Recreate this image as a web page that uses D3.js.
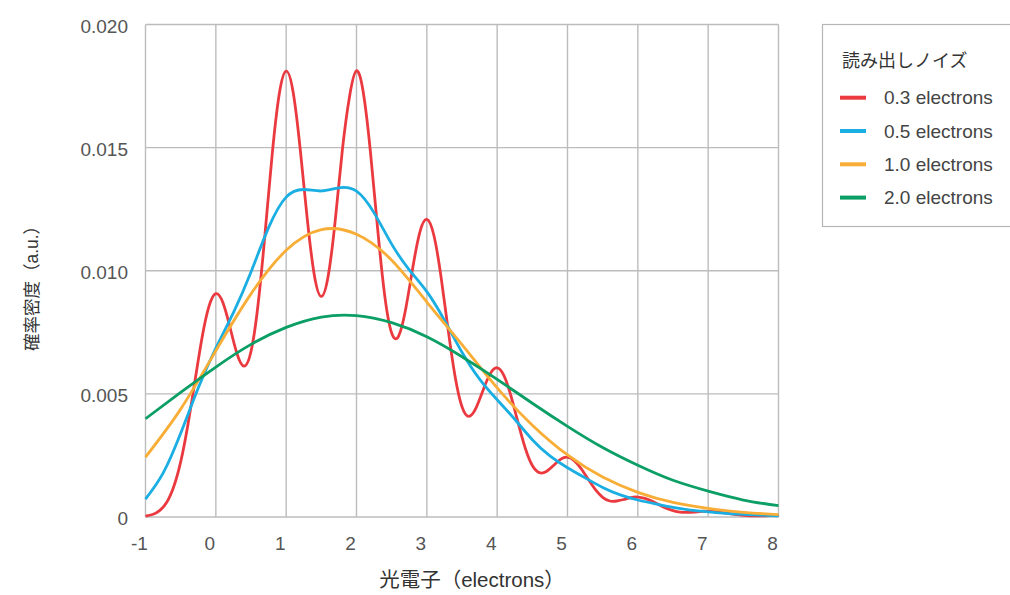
<!DOCTYPE html>
<html>
<head>
<meta charset="utf-8">
<script src="https://cdn.jsdelivr.net/npm/d3@7"></script>
<style>
body { margin: 0; background: #fff; }
text { font-family: "Helvetica Neue", Helvetica, Arial, "Liberation Sans", "Noto Sans CJK JP", sans-serif; }
</style>
</head>
<body>
<svg width="1010" height="595"></svg>
<script>
// sample positions (photoelectrons)
var xFine = [-1.0,-0.9,-0.8,-0.7,-0.6,-0.5,-0.4,-0.3,-0.2,-0.1,
  0.0,0.1,0.2,0.3,0.4,0.5,0.6,0.7,0.8,0.9,
  1.0,1.1,1.2,1.3,1.4,1.5,1.6,1.7,1.8,1.9,
  2.0,2.1,2.2,2.3,2.4,2.5,2.6,2.7,2.8,2.9,
  3.0,3.1,3.2,3.3,3.4,3.5,3.6,3.7,3.8,3.9,
  4.0,4.1,4.2,4.3,4.4,4.5,4.6,4.7,4.8,4.9,
  5.0,5.1,5.2,5.3,5.4,5.5,5.6,5.7,5.8,5.9,
  6.0,6.1,6.2,6.3,6.4,6.5,6.6,6.7,6.8,6.9,
  7.0,7.1,7.2,7.3,7.4,7.5,7.6,7.7,7.8,7.9,8.0];
var xQuarter = [-1,-0.75,-0.5,-0.25,0,0.25,0.5,0.75,1,1.25,1.5,1.75,2,2.25,2.5,2.75,
  3,3.25,3.5,3.75,4,4.25,4.5,4.75,5,5.25,5.5,5.75,6,6.25,6.5,6.75,7,7.25,7.5,7.75,8];
var xHalf = [-1,-0.5,0,0.5,1,1.5,2,2.5,3,3.5,4,4.5,5,5.5,6,6.5,7,7.5,8];

// read noise 0.3 electrons
var noise03 = [0.00004,0.0001,0.00026,0.00059,0.00122,0.00224,0.0037,0.00546,0.00722,0.00853,
  0.00907,0.00871,0.00772,0.00664,0.00613,0.00672,0.00862,0.01152,0.01469,0.01715,
  0.01811,0.01724,0.01493,0.01211,0.00983,0.00896,0.00983,0.01211,0.01493,0.01706,
  0.01812,0.01718,0.01477,0.01172,0.00902,0.00747,0.00736,0.00846,0.01012,0.01156,
  0.01209,0.01144,0.00979,0.00767,0.00574,0.00448,0.00409,0.00443,0.00515,0.00581,
  0.00606,0.00572,0.00488,0.0038,0.00279,0.00209,0.0018,0.00185,0.00209,0.00234,
  0.00243,0.00228,0.00194,0.00151,0.0011,0.0008,0.00065,0.00065,0.00071,0.00079,
  0.00081,0.00076,0.00065,0.0005,0.00036,0.00026,0.0002,0.00019,0.0002,0.00023,
  0.00023,0.00022,0.00018,0.00014,0.0001,0.00007,0.00005,0.00005,0.00005,0.00006,0.00006];
// read noise 0.5 electrons
var noise05 = [0.00073,0.00178,0.0034,0.00524,0.00686,0.0083,0.00995,0.01175,0.01299,0.0133,
  0.01324,0.01337,0.01323,0.01235,0.01108,0.01004,0.00915,0.00799,0.00669,0.0056,
  0.00476,0.00397,0.00314,0.00248,0.002,0.00159,0.0012,0.0009,0.00069,0.00053,
  0.00039,0.00028,0.00021,0.00015,0.00011,0.000075,0.00005];
// read noise 1.0 electrons
var noise10 = [0.00243,0.00438,0.00675,0.00906,0.01083,0.01167,0.01148,0.01043,0.00873,0.007,
  0.00524,0.00373,0.00252,0.00162,0.001,0.00059,0.00035,0.00019,0.0001];
// read noise 2.0 electrons
var noise20 = [0.00399,0.00506,0.00609,0.00701,0.0077,0.00812,0.00818,0.00789,0.00732,0.00651,
  0.00559,0.00462,0.00368,0.00282,0.0021,0.00149,0.00105,0.00069,0.00046];

var seriesNames = ["0.3 electrons", "0.5 electrons", "1.0 electrons", "2.0 electrons"];
var seriesColors = ["#ea3a40", "#1aaee2", "#f8ae36", "#0b9e65"];
var xTicks = [-1,0,1,2,3,4,5,6,7,8];
var yTicks = [0,0.005,0.010,0.015,0.020];
var yTickLabels = ["0","0.005","0.010","0.015","0.020"];

var svg = d3.select("svg");

var x = d3.scaleLinear().domain([-1, 8]).range([145.5, 778.5]);
var y = d3.scaleLinear().domain([0, 0.02]).range([517, 24.5]);

// grid
var grid = svg.append("g").attr("stroke", "#bcbcbc").attr("stroke-width", 1.4);
grid.selectAll(".v").data(xTicks).enter().append("line")
    .attr("x1", function(d) { return x(d); })
    .attr("x2", function(d) { return x(d); })
    .attr("y1", y(0)).attr("y2", y(0.02));
grid.selectAll(".h").data(yTicks).enter().append("line")
    .attr("y1", function(d) { return y(d); })
    .attr("y2", function(d) { return y(d); })
    .attr("x1", x(-1)).attr("x2", x(8));

// axes
var yAxis = svg.append("g")
    .attr("transform", "translate(" + x(-1) + ",0)")
    .call(d3.axisLeft(y).tickValues(yTicks).tickSize(0).tickPadding(17.5)
      .tickFormat(function(d, i) { return yTickLabels[i]; }));
yAxis.select(".domain").remove();
yAxis.selectAll("text").attr("font-size", 19).attr("fill", "#555").attr("dy", "0.4em")
    .attr("font-family", "'Helvetica Neue', Helvetica, Arial, 'Liberation Sans', sans-serif");

var xAxis = svg.append("g")
    .attr("transform", "translate(0," + y(0) + ")")
    .call(d3.axisBottom(x).tickValues(xTicks).tickSize(0).tickPadding(20)
      .tickFormat(function(d) { return String(d); }));
xAxis.select(".domain").remove();
xAxis.selectAll("text").attr("font-size", 19).attr("fill", "#555").attr("dx", -6.5)
    .attr("font-family", "'Helvetica Neue', Helvetica, Arial, 'Liberation Sans', sans-serif");

// axis titles
svg.append("text")
    .attr("x", 472).attr("y", 587)
    .attr("text-anchor", "middle")
    .attr("font-size", 20.5).attr("fill", "#333")
    .text("光電子（electrons）");

svg.append("text")
    .attr("transform", "translate(38,284) rotate(-90)")
    .attr("text-anchor", "middle")
    .attr("font-size", 17.5).attr("fill", "#333")
    .text("確率密度（a.u.）");

// curves
var series = [
  { xs: xFine, ys: noise03 },
  { xs: xQuarter, ys: noise05 },
  { xs: xHalf, ys: noise10 },
  { xs: xHalf, ys: noise20 }
];

var line = d3.line()
    .x(function(d) { return x(d[0]); })
    .y(function(d) { return y(d[1]); })
    .curve(d3.curveNatural);

series.forEach(function(s, i) {
  var pts = s.xs.map(function(v, j) { return [v, s.ys[j]]; });
  svg.append("path")
      .datum(pts)
      .attr("fill", "none")
      .attr("stroke", seriesColors[i])
      .attr("stroke-width", 2.8)
      .attr("stroke-linejoin", "round")
      .attr("d", line);
});

// legend
var lg = svg.append("g");
lg.append("rect")
    .attr("x", 822.5).attr("y", 24.5)
    .attr("width", 210).attr("height", 202)
    .attr("fill", "#fff").attr("stroke", "#b5b5b5").attr("stroke-width", 1.2);
lg.append("text")
    .attr("x", 842).attr("y", 67)
    .attr("font-size", 18).attr("fill", "#333")
    .text("読み出しノイズ");
var items = lg.selectAll(".item").data(seriesNames).enter().append("g")
    .attr("transform", function(d, i) { return "translate(0," + (97.7 + i * 33.3) + ")"; });
items.append("line")
    .attr("x1", 840).attr("x2", 866)
    .attr("stroke", function(d, i) { return seriesColors[i]; })
    .attr("stroke-width", 4);
items.append("text")
    .attr("x", 884).attr("dy", "0.35em")
    .attr("font-size", 19).attr("fill", "#444")
    .text(function(d) { return d; });
</script>
</body>
</html>
